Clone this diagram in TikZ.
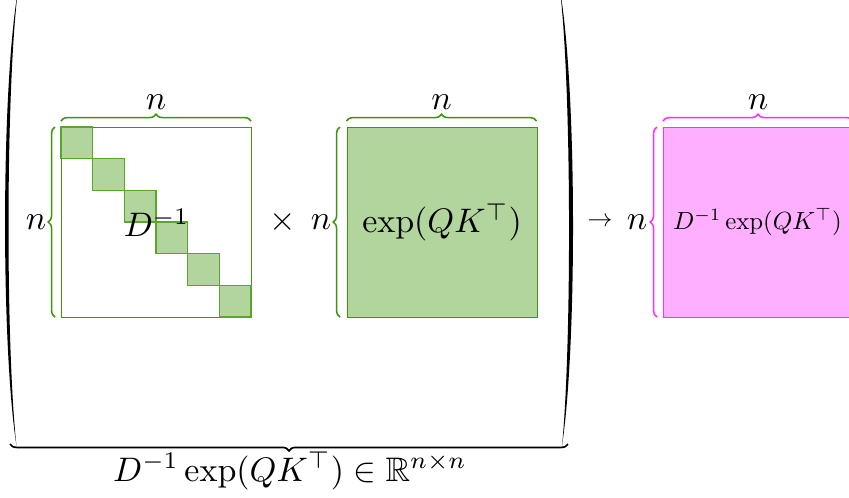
\documentclass[tikz,border=0pt]{standalone}
\usepackage{amssymb}
\usepackage{graphicx}
\usetikzlibrary{decorations.pathreplacing}
\definecolor{mgreen}{RGB}{60,150,10}
\definecolor{mpink}{RGB}{255,45,255}
\begin{document}
\begin{tikzpicture}[x=0.294pt,y=-0.294pt,
  mat/.style={anchor=north west,minimum width=55.86pt,minimum height=55.86pt,inner sep=0pt,line width=0.35pt},
  gmat/.style={mat,draw=mgreen,fill=mgreen!40},
  pmat/.style={mat,draw=mpink,fill=mpink!38},
  wmat/.style={mat,draw=mgreen,fill=white},
  blockbox/.style={draw=mgreen!85,fill=mgreen!40,line width=0.35pt},
  gbrace/.style={decorate,decoration={brace,amplitude=2pt},draw=mgreen,line width=0.45pt},
  pbrace/.style={decorate,decoration={brace,amplitude=2pt},draw=mpink,line width=0.45pt},
  bbrace/.style={decorate,decoration={brace,amplitude=2pt},draw=black,line width=0.5pt},
  lbl/.style={inner sep=0pt},
  paren/.style={fill=black}]
\path[use as bounding box,clip] (0,0) rectangle (849,497);

% big parentheses
\path[paren] (18,-10) .. controls (1,90) and (1,346) .. (16.5,446)
  .. controls (5.6,346) and (5.6,90) .. (18,-10) -- cycle;
\path[paren] (560,-10) .. controls (577,90) and (577,346) .. (562,446)
  .. controls (571.7,346) and (571.7,90) .. (560,-10) -- cycle;

% left matrix D^{-1}
\node[wmat] (A) at (61,127) {};
\foreach \i in {0,...,5}
  \draw[blockbox] (61+\i*31.667,127+\i*31.667) rectangle ++(31.667,31.667);
\node[lbl] (Dt) at (A.center) {$D^{-1}$};
\draw[gbrace] (61,121) -- (251,121);
\node[lbl] (An) at (156,102) {$n$};
\draw[gbrace] (55,317) -- (55,127);
\node[lbl] (Am) at (36,222) {$n$};

\node[lbl] (times) at (283,222) {$\times$};

% middle matrix
\node[gmat] (B) at (346.5,127) {};
\node[lbl] (Bt) at (B.center) {$\exp(QK^{\top})$};
\draw[gbrace] (346.5,121) -- (536.5,121);
\node[lbl] (Bn) at (441.5,102) {$n$};
\draw[gbrace] (340,317) -- (340,127);
\node[lbl] (Bm) at (321,222) {$n$};

% arrow
\node[lbl] (arr) at (600,222) {\scalebox{0.73}{$\rightarrow$}};

% pink result
\node[pmat] (C) at (663,127) {};
\node[lbl] (Ct) at (757.5,222) {\scalebox{0.73}{$D^{-1}\exp(QK^{\top})$}};
\draw[pbrace] (663,121) -- (853,121);
\node[lbl] (Cn) at (758,102) {$n$};
\draw[pbrace] (657,317) -- (657,127);
\node[lbl] (Cm) at (637,222) {$n$};

% bottom brace
\draw[bbrace] (568,444) -- (10,444);
\node[lbl] (tot) at (290,471) {$D^{-1}\exp(QK^{\top})\in\mathbb{R}^{n\times n}$};
\end{tikzpicture}
\end{document}
